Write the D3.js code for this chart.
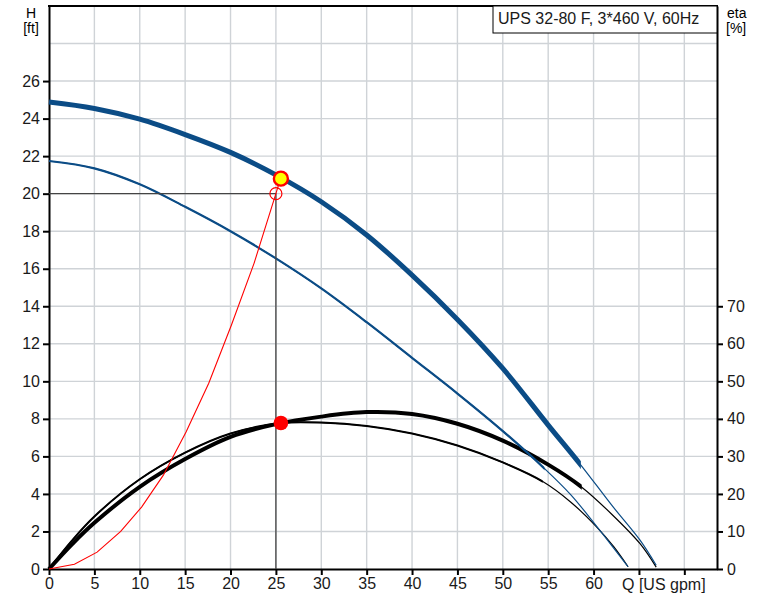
<!DOCTYPE html>
<html>
<head>
    <meta charset="utf-8">
    <title>UPS 32-80 F pump curve</title>
</head>
<body>
<style type="text/css">
    body {
        margin: 0;
        background: #fff;
    }

    #renderer {
        width: 765px;
        height: 608px;
        background: #FFF;
        display: block;
    }
</style>
<script type="text/javascript" src="https://cdnjs.cloudflare.com/ajax/libs/d3/7.8.5/d3.min.js"></script>
<svg id='renderer'></svg>

<script type="text/javascript">
    // flow values are US gpm, head is ft, eta is %
    var title = 'UPS 32-80 F, 3*460 V, 60Hz';

    // head curve at full speed; drawn thick up to headFullEnd, thin after
    var headFullQ = [0, 5, 10, 15, 20, 25, 30, 35, 40, 45, 50, 55, 58.6, 62, 65.1, 66.9];
    var headFullH = [24.88, 24.54, 23.97, 23.15, 22.2, 21.0, 19.57, 17.8, 15.66, 13.3, 10.69, 7.67, 5.54, 3.4, 1.55, 0.2];
    var headFullEnd = 58.6;

    // head curve at reduced speed
    var headLowQ = [0, 5, 10, 15, 20, 25, 30, 35, 40, 45, 50, 54.6, 57.5, 60.3, 63.8];
    var headLowH = [21.74, 21.35, 20.5, 19.3, 18.0, 16.55, 14.95, 13.15, 11.25, 9.35, 7.35, 5.35, 3.95, 2.3, 0.12];
    var headLowEnd = 54.6;

    // efficiency at full speed
    var etaFullQ = [0, 2.5, 5, 10, 15, 20, 25, 30, 35, 40, 45, 50, 55, 58.7, 62, 65.1, 66.9];
    var etaFullE = [0, 6.5, 12.3, 21.9, 29.3, 35.2, 38.6, 40.6, 41.8, 41.3, 38.7, 34.2, 27.8, 21.8, 14.6, 6.8, 0.5];
    var etaFullEnd = 58.7;

    // efficiency at reduced speed
    var etaLowQ = [0, 2.5, 5, 10, 15, 20, 25.6, 30, 35, 40, 45, 50, 54.4, 57.5, 60.3, 62.2, 63.8];
    var etaLowE = [0, 7.5, 14.0, 23.9, 31.0, 36.1, 38.9, 39.0, 38.1, 36.1, 32.9, 28.4, 23.3, 17.8, 11.3, 6.0, 0.6];
    var etaLowEnd = 54.4;

    // system curve (red)
    var systemQ = [0, 2.8, 5.3, 7.9, 10.2, 12.6, 15.1, 17.6, 20.1, 22.6, 25.0, 25.5];
    var systemH = [0, 0.25, 0.9, 2.0, 3.3, 5.0, 7.3, 9.9, 13.0, 16.3, 20.0, 20.8];

    // duty point and operating point
    var dutyQ = 25, dutyH = 20;
    var operQ = 25.55, operH = 20.8, operEta = 38.9;

    // ticks
    var qTicks = [0, 5, 10, 15, 20, 25, 30, 35, 40, 45, 50, 55, 60, 65, 70];
    var qLabels = ['0', '5', '10', '15', '20', '25', '30', '35', '40', '45', '50', '55', '60', '', ''];
    var hTicks = [0, 2, 4, 6, 8, 10, 12, 14, 16, 18, 20, 22, 24, 26];
    var hGrid = [2, 4, 6, 8, 10, 12, 14, 16, 18, 20, 22, 24, 26, 28];
    var etaTicks = [0, 10, 20, 30, 40, 50, 60, 70];

    var root = d3.select('#renderer');
    var font = "'Liberation Sans', Arial, sans-serif";
    var blue = '#0b4c86';

    var plotLeft = 49, plotRight = 717, plotTop = 6, plotBottom = 569;

    var x = d3.scaleLinear().domain([0, 73.6]).range([plotLeft, plotRight]);
    var y = d3.scaleLinear().domain([0, 30]).range([plotBottom, plotTop]);
    var yEta = d3.scaleLinear().domain([0, 150]).range([plotBottom, plotTop]);

    // grid
    root.append('g').selectAll('line').data(qTicks.slice(1)).enter().append('line')
        .attr('x1', function (d) { return x(d); })
        .attr('x2', function (d) { return x(d); })
        .attr('y1', plotTop)
        .attr('y2', plotBottom)
        .attr('stroke', '#cfd3d7')
        .attr('stroke-width', 1.4);

    root.append('g').selectAll('line').data(hGrid).enter().append('line')
        .attr('x1', plotLeft)
        .attr('x2', plotRight)
        .attr('y1', function (d) { return y(d); })
        .attr('y2', function (d) { return y(d); })
        .attr('stroke', '#cfd3d7')
        .attr('stroke-width', 1.4);

    // axes
    function styleAxis(g) {
        g.attr('font-size', 16).attr('font-family', font);
        g.select('.domain').attr('stroke', '#000').attr('stroke-width', 2);
        g.selectAll('.tick line').attr('stroke', '#000').attr('stroke-width', 2);
        g.selectAll('.tick text').attr('fill', '#1a1a1a');
    }

    root.append('g')
        .attr('transform', 'translate(' + plotLeft + ',0)')
        .call(d3.axisLeft(y).tickValues(hTicks).tickSize(6).tickSizeOuter(0).tickPadding(3))
        .call(styleAxis);

    root.append('g')
        .attr('transform', 'translate(0,' + plotBottom + ')')
        .call(d3.axisBottom(x).tickValues(qTicks).tickSize(6).tickSizeOuter(0).tickPadding(3)
            .tickFormat(function (d, i) { return qLabels[i]; }))
        .call(styleAxis);

    root.append('g')
        .attr('transform', 'translate(' + plotRight + ',0)')
        .call(d3.axisRight(yEta).tickValues(etaTicks).tickSize(6).tickSizeOuter(0).tickPadding(4))
        .call(styleAxis);

    // top frame
    root.append('line')
        .attr('x1', plotLeft - 1).attr('x2', plotRight + 1)
        .attr('y1', plotTop).attr('y2', plotTop)
        .attr('stroke', '#000').attr('stroke-width', 2);

    // title box
    root.append('rect')
        .attr('x', 493).attr('y', plotTop)
        .attr('width', plotRight - 493).attr('height', 27)
        .attr('fill', '#fff').attr('stroke', '#000').attr('stroke-width', 1);

    root.append('text')
        .text(title)
        .attr('x', 498).attr('y', 24)
        .attr('font-size', 16).attr('font-family', font).attr('fill', '#1a1a1a');

    // axis titles
    root.append('text').text('H').attr('x', 31).attr('y', 18)
        .attr('text-anchor', 'middle').attr('font-size', 14).attr('font-family', font);
    root.append('text').text('[ft]').attr('x', 31).attr('y', 33)
        .attr('text-anchor', 'middle').attr('font-size', 14).attr('font-family', font);
    root.append('text').text('eta').attr('x', 727).attr('y', 18)
        .attr('font-size', 14).attr('font-family', font);
    root.append('text').text('[%]').attr('x', 726).attr('y', 33)
        .attr('font-size', 14).attr('font-family', font);
    root.append('text').text('Q [US gpm]').attr('x', 622).attr('y', 590)
        .attr('font-size', 16).attr('font-family', font).attr('fill', '#1a1a1a');

    // curves
    function zip(a, b) {
        return a.map(function (v, i) { return [v, b[i]]; });
    }

    var clipCount = 0;

    // whole curve thin, then the working range again with the wider pen
    function drawCurve(pts, scaleY, color, thinWidth, wideWidth, endQ) {
        var line = d3.line()
            .x(function (d) { return x(d[0]); })
            .y(function (d) { return scaleY(d[1]); })
            .curve(d3.curveCatmullRom.alpha(0.5));

        root.append('path')
            .attr('d', line(pts))
            .attr('fill', 'none')
            .attr('stroke', color)
            .attr('stroke-width', thinWidth);

        if (endQ == null) return;

        var id = 'clip' + (clipCount++);
        root.append('clipPath').attr('id', id)
            .append('rect')
            .attr('x', 0).attr('y', 0)
            .attr('width', x(endQ)).attr('height', 608);

        root.append('path')
            .attr('d', line(pts))
            .attr('fill', 'none')
            .attr('stroke', color)
            .attr('stroke-width', wideWidth)
            .attr('clip-path', 'url(#' + id + ')');
    }

    drawCurve(zip(etaLowQ, etaLowE), yEta, '#000', 1.2, 2, etaLowEnd);
    drawCurve(zip(etaFullQ, etaFullE), yEta, '#000', 1.2, 4, etaFullEnd);

    drawCurve(zip(headLowQ, headLowH), y, blue, 1.2, 2.2, headLowEnd);
    drawCurve(zip(headFullQ, headFullH), y, blue, 1.2, 5, headFullEnd);

    // duty point guide lines
    root.append('polyline')
        .attr('points', [[x(0), y(dutyH)], [x(dutyQ), y(dutyH)], [x(dutyQ), y(0)]].join(' '))
        .attr('fill', 'none')
        .attr('stroke', '#444')
        .attr('stroke-width', 1.3);

    root.append('path')
        .attr('d', d3.line()
            .x(function (d) { return x(d[0]); })
            .y(function (d) { return y(d[1]); })(zip(systemQ, systemH)))
        .attr('fill', 'none')
        .attr('stroke', '#ff0000')
        .attr('stroke-width', 1.1);

    root.append('circle')
        .attr('cx', x(dutyQ)).attr('cy', y(dutyH)).attr('r', 6)
        .attr('fill', 'none').attr('stroke', '#ff0000').attr('stroke-width', 1.2);

    root.append('circle')
        .attr('cx', x(operQ)).attr('cy', y(operH)).attr('r', 7)
        .attr('fill', '#ffff00').attr('stroke', '#ff0000').attr('stroke-width', 2.4);

    root.append('circle')
        .attr('cx', x(operQ)).attr('cy', yEta(operEta)).attr('r', 7.3)
        .attr('fill', '#ff0000');
</script>
</body>
</html>
